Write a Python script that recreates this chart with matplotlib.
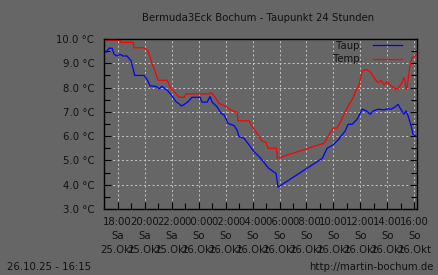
import matplotlib
matplotlib.use("Agg")
import matplotlib.pyplot as plt
from matplotlib.ticker import MultipleLocator, FixedLocator

# Hours since 25.10.25 00:00
temp_hours = [16.98, 18.17, 18.24, 19.14, 19.21, 19.95, 20.25, 20.54, 20.82, 20.99,
              21.66, 21.93, 22.25, 22.54, 22.92, 23.07, 24.77, 24.92, 25.14, 25.51,
              25.96, 26.40, 26.70, 26.85, 26.92, 27.74, 28.04, 28.33, 28.70, 29.00,
              29.15, 29.78, 29.84, 33.30, 33.60, 33.97, 34.27, 34.49, 34.64, 34.87,
              35.17, 35.46, 35.69, 35.84, 36.14, 36.44, 36.79, 37.09, 37.31, 37.53,
              37.76, 37.98, 38.28, 38.57, 38.79, 39.09, 39.24, 39.31, 39.39, 39.46,
              39.68, 39.83, 40.06, 40.13]
temp_values = [9.95, 9.95, 9.86, 9.86, 9.64, 9.64, 9.5, 9.0, 8.6, 8.3,
               8.3, 7.97, 7.79, 7.6, 7.6, 7.74, 7.74, 7.79, 7.67, 7.35,
               7.24, 7.08, 7.0, 7.0, 6.63, 6.63, 6.33, 6.12, 5.8, 5.75,
               5.5, 5.5, 5.09, 5.71, 5.98, 6.33, 6.33, 6.55, 6.74, 7.0,
               7.31, 7.58, 7.93, 8.0, 8.68, 8.75, 8.61, 8.34, 8.2, 8.3,
               8.11, 8.24, 8.07, 7.95, 7.95, 8.2, 8.41, 8.3, 7.93, 8.0,
               8.89, 9.23, 9.3, 9.37]

dew_hours = [16.98, 17.13, 17.35, 17.58, 17.73, 17.95, 18.17, 18.39, 18.69, 18.99,
             19.26, 19.95, 20.17, 20.40, 20.84, 21.06, 21.29, 21.51, 21.73, 22.03,
             22.33, 22.62, 22.70, 22.92, 23.22, 23.51, 24.11, 24.25, 24.63, 24.85,
             25.00, 25.37, 25.66, 25.89, 26.18, 26.63, 26.85, 27.00, 27.37, 27.74,
             28.11, 28.48, 28.85, 29.15, 29.53, 29.74, 29.89, 33.18, 33.53, 33.97,
             34.34, 34.64, 34.87, 35.09, 35.39, 35.76, 36.14, 36.44, 36.73, 36.96,
             37.31, 37.76, 38.05, 38.28, 38.57, 38.79, 39.01, 39.24, 39.39, 39.54,
             39.76, 39.91, 40.13]
dew_values = [9.5, 9.45, 9.62, 9.62, 9.37, 9.3, 9.37, 9.3, 9.3, 9.1,
              8.5, 8.5, 8.34, 8.07, 8.05, 7.95, 8.05, 7.95, 7.86, 7.65,
              7.42, 7.3, 7.24, 7.3, 7.42, 7.6, 7.6, 7.4, 7.4, 7.63,
              7.4, 7.21, 6.94, 6.87, 6.53, 6.43, 6.25, 5.98, 5.91, 5.64,
              5.36, 5.16, 4.92, 4.7, 4.54, 4.47, 3.9, 5.09, 5.5, 5.64,
              5.84, 6.05, 6.21, 6.49, 6.49, 6.7, 7.11, 7.04, 6.9, 7.04,
              7.11, 7.08, 7.13, 7.11, 7.2, 7.31, 7.1, 6.9, 7.04, 6.83,
              6.42, 6.08, 6.0]

tick_hours = [18, 20, 22, 24, 26, 28, 30, 32, 34, 36, 38, 40]
tick_labels = ["18:00\nSa\n25.Okt", "20:00\nSa\n25.Okt", "22:00\nSa\n25.Okt",
               "00:00\nSo\n26.Okt", "02:00\nSo\n26.Okt", "04:00\nSo\n26.Okt",
               "06:00\nSo\n26.Okt", "08:00\nSo\n26.Okt", "10:00\nSo\n26.Okt",
               "12:00\nSo\n26.Okt", "14:00\nSo\n26.Okt", "16:00\nSo\n26.Okt"]
y_ticks = [3, 4, 5, 6, 7, 8, 9, 10]

bg = "#666666"
txt = "#111111"
fs = 7.3

fig = plt.figure(figsize=(4.38, 2.75), dpi=100, facecolor=bg)
ax = fig.add_axes([104 / 438, 1 - 209 / 275, (417 - 104) / 438, (209 - 39) / 275])
ax.set_facecolor(bg)

ax.plot(dew_hours, dew_values, color="#0000ff", lw=0.9, label="Taup.")
ax.plot(temp_hours, temp_values, color="#ff0000", lw=0.9, label="Temp.")

ax.set_xlim(16.98, 40.2)
ax.set_ylim(3, 10)

ax.xaxis.set_major_locator(FixedLocator(tick_hours))
ax.set_xticks(tick_hours)
ax.set_xticklabels(tick_labels, fontsize=fs, color=txt, linespacing=1.5)
ax.xaxis.set_minor_locator(MultipleLocator(1))
ax.set_yticks(y_ticks)
ax.set_yticklabels(["%.1f °C" % v for v in y_ticks], fontsize=fs, color=txt)
ax.yaxis.set_minor_locator(MultipleLocator(0.5))

ax.tick_params(axis="both", which="both", direction="in", color="black",
               top=False, right=True)
ax.tick_params(axis="both", which="major", length=5, width=0.8)
ax.tick_params(axis="both", which="minor", length=4, width=0.8)
ax.tick_params(axis="x", which="major", pad=6)
ax.tick_params(axis="y", which="major", pad=7)

ax.grid(True, which="major", color="#c8c8c8", lw=0.7, linestyle=(0, (2, 2.5)))
for s in ax.spines.values():
    s.set_color("black")
    s.set_linewidth(1.0)

leg = ax.legend(loc="upper right", frameon=False, markerfirst=False,
                fontsize=fs, handlelength=2.9, borderaxespad=0, borderpad=0.15,
                bbox_to_anchor=((404 - 104) / 313, 1.0),
                labelspacing=0.35, handletextpad=1.0)
for t in leg.get_texts():
    t.set_color(txt)

fig.text(258 / 438, 1 - 18 / 275, "Bermuda3Eck Bochum - Taupunkt 24 Stunden",
         ha="center", va="center", fontsize=fs, color=txt)
fig.text(7 / 438, 1 - 267 / 275, "26.10.25 - 16:15", ha="left", va="center",
         fontsize=fs, color=txt)
fig.text(434 / 438, 1 - 267 / 275, "http://martin-bochum.de", ha="right",
         va="center", fontsize=fs, color=txt)

fig.savefig("out.png", dpi=100, facecolor=bg)
